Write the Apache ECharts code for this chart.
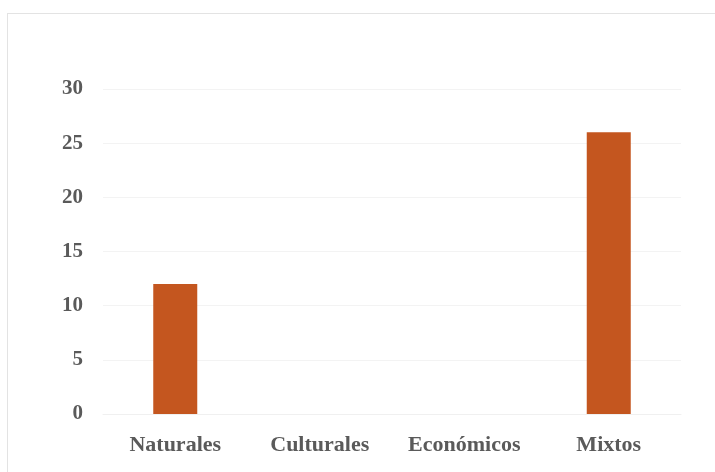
<!DOCTYPE html>
<html>
<head>
<meta charset="utf-8">
<script src="https://cdn.jsdelivr.net/npm/echarts@6/dist/echarts.min.js"></script>
<style>
  html, body { margin: 0; padding: 0; background: #fff; }
  #frame { position: absolute; left: 7px; top: 13px; width: 720px; height: 470px; border: 1px solid #e3e3e3; box-sizing: border-box; }
  #chart { position: absolute; left: 0; top: 0; width: 715px; height: 472px; }
</style>
</head>
<body>
<div id="frame"></div>
<div id="chart"></div>
<script>
const categories = ['Naturales', 'Culturales', 'Económicos', 'Mixtos'];
const values = [12, 0, 0, 26];
const yMin = 0, yMax = 30, yStep = 5;

const chart = echarts.init(document.getElementById('chart'), null, { renderer: 'canvas' });
const font = '"Liberation Serif", "Times New Roman", serif';
chart.setOption({
  backgroundColor: 'transparent',
  animation: false,
  grid: { left: 103, right: 34, top: 89, bottom: 58, containLabel: false },
  xAxis: {
    type: 'category',
    data: categories,
    axisLine: { show: true, lineStyle: { color: '#f0f0f0', width: 1 } },
    axisTick: { show: false },
    axisLabel: { interval: 0, color: '#5a5a5a', fontFamily: font, fontWeight: 'bold', fontSize: 22, margin: 20 }
  },
  yAxis: {
    type: 'value',
    min: yMin, max: yMax, interval: yStep,
    axisLine: { show: false },
    axisTick: { show: false },
    splitLine: { lineStyle: { color: '#f3f3f3', width: 1 } },
    axisLabel: { color: '#5a5a5a', fontFamily: font, fontWeight: 'bold', fontSize: 21, margin: 20 }
  },
  series: [{
    type: 'bar',
    data: values,
    barWidth: 44,
    itemStyle: { color: '#C4561F' }
  }]
});
</script>
</body>
</html>
